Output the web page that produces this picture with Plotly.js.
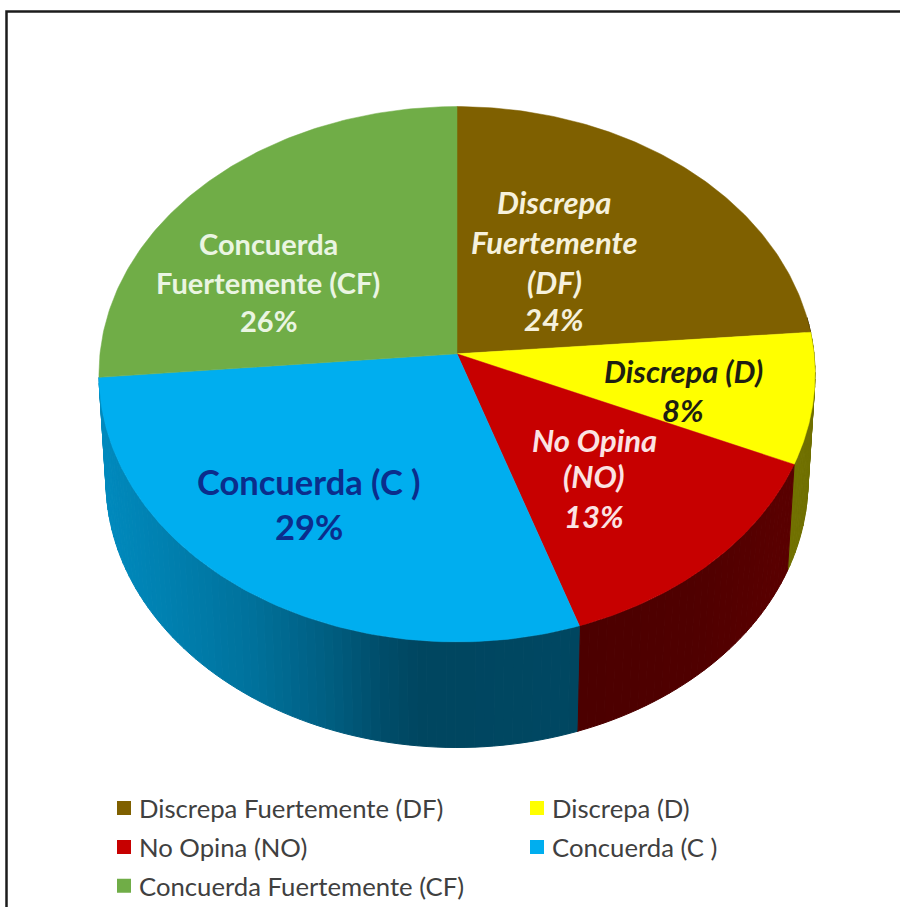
<!DOCTYPE html>
<html>
<head>
<meta charset="utf-8">
<script src="https://cdn.plot.ly/plotly-3.0.1.min.js"></script>
<style>html,body{margin:0;padding:0;background:#fff}#chart{width:900px;height:910px}</style>
</head>
<body>
<div id="chart"></div>
<script>
// ---- data ----
const categories = ["Discrepa Fuertemente (DF)", "Discrepa (D)", "No Opina (NO)", "Concuerda (C )", "Concuerda Fuertemente (CF)"];
const values = [23.7, 7.9, 13.25, 28.75, 26.4];
const sliceColors = ["#7F6000", "#FFFF00", "#C70000", "#00AEEF", "#70AD47"];
const labelLines = [
  ["Discrepa", "Fuertemente", "(DF)", "24%"],
  ["Discrepa (D)", "8%"],
  ["No Opina", "(NO)", "13%"],
  ["Concuerda (C )", "29%"],
  ["Concuerda", "Fuertemente (CF)", "26%"]
];

// ---- perspective projection of the disc ----
const CX = 457, TOP = {cy: 355, a: 357, b: 267}, BASE = {cy: 462, a: 350, b: 266}, P = 0.0763;
function project(frac, d) {
  const t = frac * 2 * Math.PI, u = Math.sin(t), v = Math.cos(t), w = 1 + P * v;
  return [CX + d.a * u / w, d.cy - d.b * v / w];
}
const total = values.reduce((a, b) => a + b, 0);
const starts = []; values.reduce((acc, v, i) => (starts[i] = acc / total, acc + v), 0);
const ends = starts.map((s, i) => s + values[i] / total);

function shade(hex, f) {
  const n = parseInt(hex.slice(1), 16);
  return "rgb(" + [(n >> 16) & 255, (n >> 8) & 255, n & 255].map(c => Math.round(c * f)).join(",") + ")";
}
// light falloff along the wall, by horizontal screen position
const shadeStops = [[90, .80], [160, .74], [250, .65], [333, .53], [383, .44], [420, .40], [560, .41], [577, .40], [582, .38], [700, .40], [783, .45], [830, .43]];
function shadeAt(x) {
  for (let i = 1; i < shadeStops.length; i++) {
    if (x <= shadeStops[i][0]) {
      const [x0, f0] = shadeStops[i - 1], [x1, f1] = shadeStops[i];
      return f0 + (f1 - f0) * (x - x0) / (x1 - x0);
    }
  }
  return .43;
}

const traces = [];
const wallStep = 0.004;
const wallFrom = 0.23, wallTo = ends[3];   // the wall is hidden outside this arc
values.forEach((val, i) => {
  for (let f = starts[i]; f < ends[i] - 1e-9; f += wallStep) {
    const g = Math.min(f + wallStep, ends[i]);
    if (g < wallFrom || f >= wallTo - 1e-9) continue;
    const r0 = project(f, TOP), r1 = project(g, TOP), b1 = project(g, BASE), b0 = project(f, BASE);
    const col = shade(sliceColors[i], shadeAt((r0[0] + r1[0]) / 2));
    traces.push({type: "scatter", mode: "lines", x: [r0[0], r1[0], b1[0], b0[0], r0[0]], y: [r0[1], r1[1], b1[1], b0[1], r0[1]],
      fill: "toself", fillcolor: col, line: {color: col, width: 1}, showlegend: false, hoverinfo: "skip"});
  }
});
values.forEach((val, i) => {
  const xs = [CX], ys = [TOP.cy];
  for (let k = 0; k <= 120; k++) {
    const p = project(starts[i] + (ends[i] - starts[i]) * k / 120, TOP);
    xs.push(p[0]); ys.push(p[1]);
  }
  xs.push(CX); ys.push(TOP.cy);
  traces.push({type: "scatter", mode: "lines", x: xs, y: ys, fill: "toself", fillcolor: sliceColors[i],
    line: {color: sliceColors[i], width: 0.5}, name: categories[i], showlegend: false, hoverinfo: "skip"});
});
// legend entries, one small legend per slot so the two-column spacing can be kept
const legendIds = ["legend", "legend2", "legend3", "legend4", "legend5"];
categories.forEach((c, i) => traces.push({type: "scatter", mode: "markers", x: [null], y: [null], name: c,
  marker: {symbol: "square", size: 14, color: sliceColors[i]}, legend: legendIds[i], showlegend: true, hoverinfo: "skip"}));

// ---- layout ----
const W = 900, H = 910;
const legendPos = [[99, 811], [512, 811], [99, 850], [512, 850], [99, 889]];
const layout = {
  width: W, height: H, margin: {l: 0, r: 0, t: 0, b: 0}, paper_bgcolor: "#fff", plot_bgcolor: "#fff",
  font: {family: "Lato, Carlito, sans-serif"},
  xaxis: {range: [0, W], visible: false, fixedrange: true},
  yaxis: {range: [H, 0], visible: false, fixedrange: true},
  shapes: [{type: "path", path: "M 6.5 910 L 6.5 11.5 L 900 11.5", line: {color: "#1c1c1c", width: 2.5}}],
  annotations: []
};
legendIds.forEach((id, i) => {
  layout[id] = {x: legendPos[i][0] / W, y: 1 - legendPos[i][1] / H, xanchor: "left", yanchor: "middle",
    bgcolor: "rgba(0,0,0,0)", borderwidth: 0, font: {family: "Lato, sans-serif", size: 25.7, color: "#404040"}};
});
const labelStyle = [
  {x: 554, y: [203, 243, 283, 320], size: 31, color: "#F6F1DC", italic: true},
  {x: 683, y: [372, 411], size: 31, color: "#1E1E12", italic: true},
  {x: 594, y: [441, 478, 518], size: 31, color: "#FBE3E3", italic: true},
  {x: 309, y: [483, 528], size: 34.5, color: "#0B2D8C", italic: false},
  {x: 268, y: [244, 283, 322], size: 29, color: "#EAF5E2", italic: false}
];
labelLines.forEach((lines, i) => {
  const s = labelStyle[i];
  lines.forEach((t, k) => layout.annotations.push({xref: "x", yref: "y", x: s.x, y: s.y[k], showarrow: false, text: t,
    xanchor: "center", yanchor: "middle", font: {family: "Lato, sans-serif", size: s.size, color: s.color, weight: 700, style: s.italic ? "italic" : "normal"}}));
});
Plotly.newPlot("chart", traces, layout, {displayModeBar: false, staticPlot: true}).then(() => {
  document.querySelectorAll("#chart .legendsymbols").forEach(el => el.setAttribute("transform", "translate(5,0)"));
});
</script>
</body>
</html>
